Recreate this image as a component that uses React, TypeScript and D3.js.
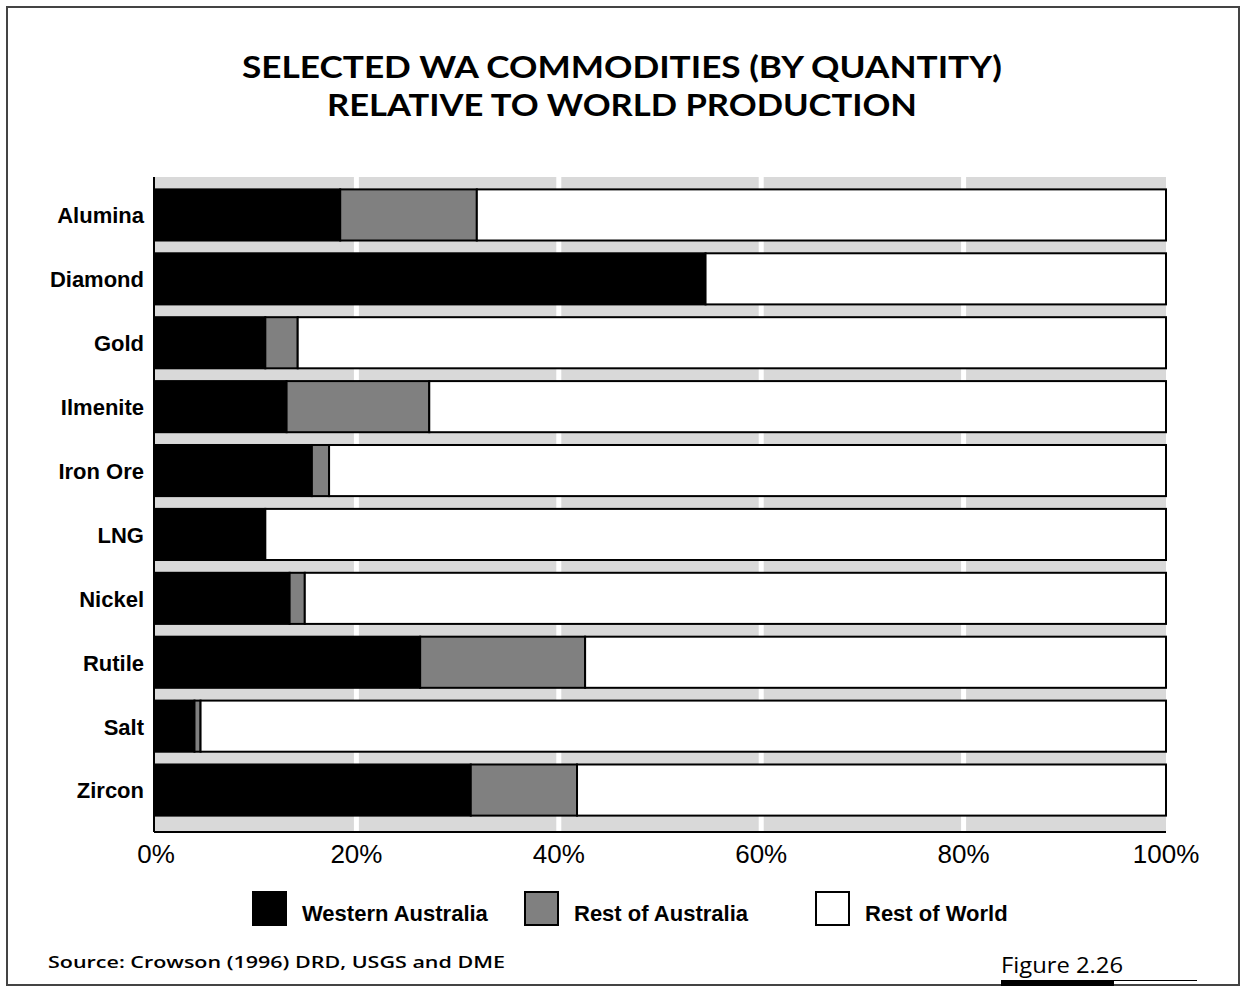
import React, { useEffect } from "react";
import * as d3 from "d3";

const categories = ["Alumina", "Diamond", "Gold", "Ilmenite", "Iron Ore", "LNG", "Nickel", "Rutile", "Salt", "Zircon"];
const westernAustralia = [18.4, 54.5, 11.0, 13.1, 15.6, 11.0, 13.4, 26.3, 4.0, 31.3];
const restOfAustralia = [13.5, 0, 3.2, 14.1, 1.7, 0, 1.5, 16.3, 0.6, 10.5];
const xTicks = [0, 20, 40, 60, 80, 100];
const seriesNames = ["Western Australia", "Rest of Australia", "Rest of World"];
const seriesColors = ["#000000", "#808080", "#ffffff"];
const titleLines = ["SELECTED WA COMMODITIES (BY QUANTITY)", "RELATIVE TO WORLD PRODUCTION"];

const W = 1244;
const H = 987;

export default function App() {
  useEffect(() => {
    document.body.style.margin = "0";
  }, []);

  const x = d3.scaleLinear().domain([0, 100]).range([154, 1166]);
  const y = d3.scaleBand<string>().domain(categories).range([183, 822]).paddingInner(0.2).paddingOuter(0.1);

  const rows = categories.map((c, i) => {
    const wa = westernAustralia[i];
    const ra = restOfAustralia[i];
    return { c, segs: [[0, wa], [wa, wa + ra], [wa + ra, 100]] };
  });

  const plotTop = 177;
  const plotBottom = 832;

  const legendX = [253, 525, 816];

  return (
    <svg width={W} height={H} style={{ display: "block" }} xmlns="http://www.w3.org/2000/svg">
      <rect x={0} y={0} width={W} height={H} fill="#fff" />
      <rect x={7} y={7} width={1232} height={978} fill="none" stroke="#444" strokeWidth={2} />

      {titleLines.map((t, i) => (
        <text
          key={i}
          x={622}
          y={78 + i * 38}
          textAnchor="middle"
          fontFamily="Lato, 'Open Sans', sans-serif"
          fontWeight={700}
          fontSize={30}
          fill="#000"
          textLength={i === 0 ? 760 : 590}
          lengthAdjust="spacingAndGlyphs"
        >
          {t}
        </text>
      ))}

      {/* plot background */}
      <rect x={x(0)} y={plotTop} width={x(100) - x(0)} height={plotBottom - plotTop} fill="#d9d9d9" />
      {xTicks.filter((t) => t > 0 && t < 100).map((t) => (
        <line key={t} x1={x(t)} x2={x(t)} y1={plotTop} y2={plotBottom} stroke="#fff" strokeWidth={5} />
      ))}

      {/* bars */}
      {rows.map((r) => (
        <g key={r.c}>
          {r.segs.map(([a, b], k) =>
            b - a > 0 ? (
              <rect
                key={k}
                x={x(a)}
                y={y(r.c)!}
                width={x(b) - x(a)}
                height={y.bandwidth()}
                fill={seriesColors[k]}
                stroke="#000"
                strokeWidth={2}
              />
            ) : null
          )}
          <text
            x={144}
            y={y(r.c)! + y.bandwidth() / 2}
            dy="0.38em"
            textAnchor="end"
            fontFamily="'Liberation Sans', Arial, sans-serif"
            fontWeight={700}
            fontSize={22}
            fill="#000"
          >
            {r.c}
          </text>
        </g>
      ))}

      {/* axes */}
      <line x1={x(0)} x2={x(0)} y1={plotTop} y2={plotBottom} stroke="#000" strokeWidth={2} />
      <line x1={x(0)} x2={x(100)} y1={plotBottom} y2={plotBottom} stroke="#000" strokeWidth={2} />
      {xTicks.map((t) => (
        <text
          key={t}
          x={x(t) + (t === 0 ? 2 : 0)}
          y={863}
          textAnchor="middle"
          fontFamily="'Liberation Sans', Arial, sans-serif"
          fontSize={26}
          fill="#000"
        >
          {t + "%"}
        </text>
      ))}

      {/* legend */}
      {seriesNames.map((n, i) => (
        <g key={n}>
          <rect x={legendX[i]} y={892} width={33} height={33} fill={seriesColors[i]} stroke="#000" strokeWidth={2} />
          <text
            x={legendX[i] + 49}
            y={921}
            fontFamily="'Liberation Sans', Arial, sans-serif"
            fontWeight={700}
            fontSize={22}
            fill="#000"
          >
            {n}
          </text>
        </g>
      ))}

      {/* source */}
      <text
        x={48}
        y={968}
        fontFamily="'Open Sans', sans-serif"
        fontWeight={600}
        fontSize={17}
        fill="#000"
        textLength={457}
        lengthAdjust="spacingAndGlyphs"
      >
        Source: Crowson (1996) DRD, USGS and DME
      </text>

      {/* figure label */}
      <text
        x={1001}
        y={973}
        fontFamily="'Open Sans', sans-serif"
        fontWeight={400}
        fontSize={21}
        fill="#000"
        textLength={122}
        lengthAdjust="spacingAndGlyphs"
      >
        Figure 2.26
      </text>
      <line x1={1001} x2={1197} y1={980.5} y2={980.5} stroke="#000" strokeWidth={1} />
      <rect x={1001} y={980} width={113} height={6} fill="#000" />
    </svg>
  );
}
